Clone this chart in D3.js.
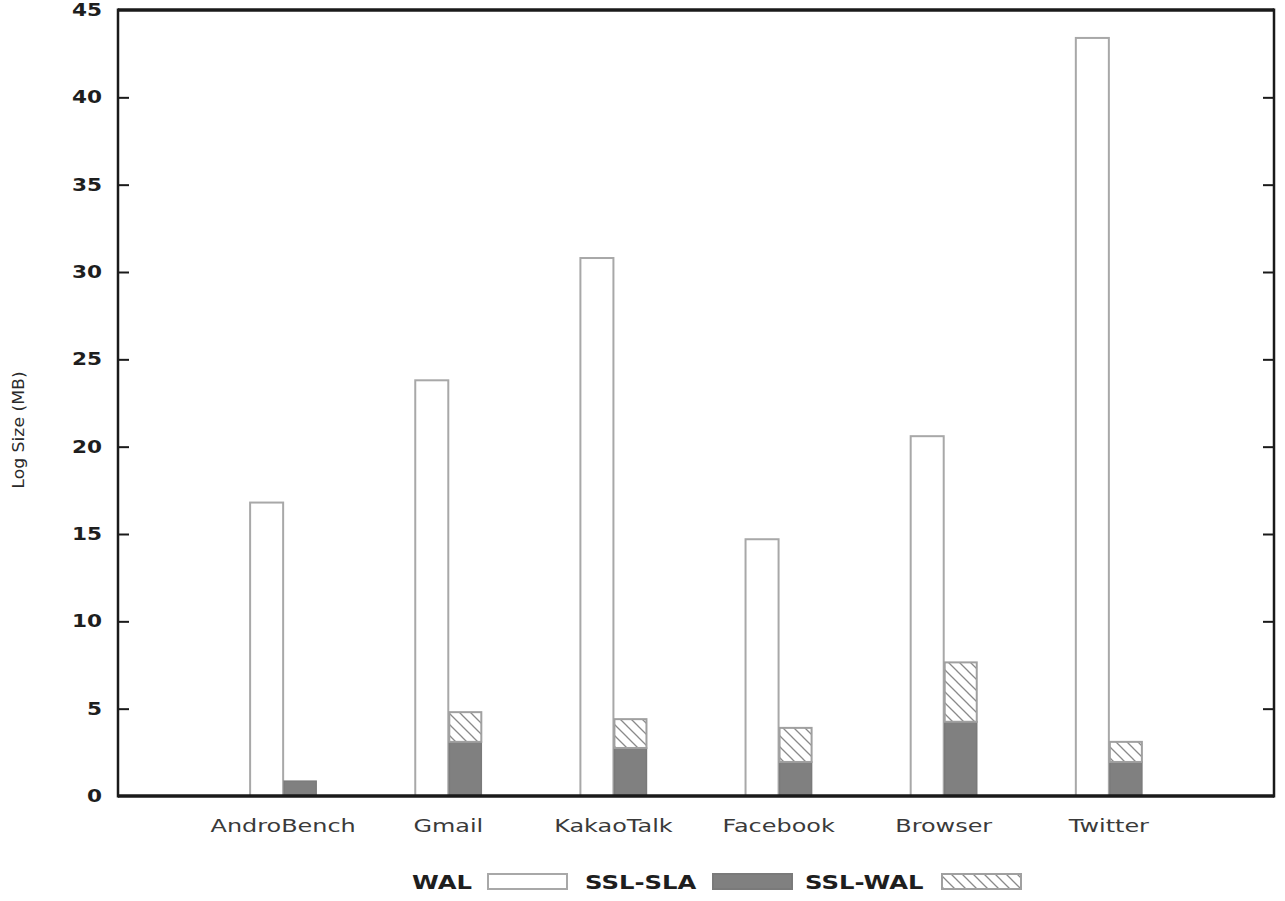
<!DOCTYPE html>
<html>
<head>
<meta charset="utf-8">
<script src="https://cdn.jsdelivr.net/npm/d3@7"></script>
<style>
  html, body { margin: 0; padding: 0; background: #fff; }
  svg { display: block; }
</style>
</head>
<body>
<svg id="chart" width="1285" height="901"></svg>
<script>
// ---- data ----
const categories = ["AndroBench", "Gmail", "KakaoTalk", "Facebook", "Browser", "Twitter"];
const walValues    = [16.8, 23.8, 30.8, 14.7, 20.6, 43.4];
const sslSlaValues = [0.85, 3.1, 2.75, 1.95, 4.25, 1.95];
const sslWalValues = [0.0, 1.7, 1.65, 1.95, 3.4, 1.15];
const yTicks = [0, 5, 10, 15, 20, 25, 30, 35, 40, 45];
const yLabel = "Log Size (MB)";
const legendLabels = ["WAL", "SSL-SLA", "SSL-WAL"];

(function () {
// ---- layout ----
const svg = d3.select("#chart");
const pLeft = 118, pRight = 1274, pTop = 10, pBottom = 796;
const FONT = "'DejaVu Sans', 'Liberation Sans', sans-serif";

const x = d3.scaleLinear().domain([0, categories.length + 1]).range([pLeft, pRight]);
const y = d3.scaleLinear().domain([0, 45]).range([pBottom, pTop]);
const barW = 0.2; // in x units

// hatch pattern
const defs = svg.append("defs");
const pat = defs.append("pattern")
  .attr("id", "hatch").attr("patternUnits", "userSpaceOnUse")
  .attr("width", 11).attr("height", 11);
pat.append("rect").attr("width", 11).attr("height", 11).attr("fill", "#fff");
pat.append("path").attr("d", "M-1,-1 L12,12 M-12,-1 L1,12 M10,-1 L23,12")
  .attr("stroke", "#8a8a8a").attr("stroke-width", 1.3);

// stretched text helper
function stext(g, str, tx, ty, opts) {
  const o = Object.assign({ size: 18, weight: "normal", fill: "#222", anchor: "start", sx: 1.3, baseline: "auto", rotate: 0 }, opts);
  return g.append("text")
    .attr("transform", `translate(${tx},${ty}) rotate(${o.rotate}) scale(${o.sx},1)`)
    .attr("font-family", FONT).attr("font-size", o.size).attr("font-weight", o.weight)
    .attr("fill", o.fill).attr("text-anchor", o.anchor).attr("dominant-baseline", o.baseline)
    .text(str);
}

const plot = svg.append("g");

// WAL bars
plot.selectAll("rect.wal").data(walValues).enter().append("rect")
  .attr("class", "wal")
  .attr("x", (d, i) => x(i + 1 - barW))
  .attr("width", (d, i) => x(i + 1) - x(i + 1 - barW))
  .attr("y", d => y(d))
  .attr("height", d => y(0) - y(d))
  .attr("fill", "#fff").attr("stroke", "#a8a8a8").attr("stroke-width", 2);

// SSL-SLA bars
plot.selectAll("rect.sla").data(sslSlaValues).enter().append("rect")
  .attr("class", "sla")
  .attr("x", (d, i) => x(i + 1) + 1)
  .attr("width", (d, i) => x(i + 1 + barW) - x(i + 1) - 1)
  .attr("y", d => y(d))
  .attr("height", d => y(0) - y(d))
  .attr("fill", "#808080").attr("stroke", "#7a7a7a").attr("stroke-width", 1.5);

// SSL-WAL stacked hatched
plot.selectAll("rect.swal").data(sslWalValues).enter().append("rect")
  .attr("class", "swal")
  .attr("x", (d, i) => x(i + 1) + 1)
  .attr("width", (d, i) => x(i + 1 + barW) - x(i + 1) - 1)
  .attr("y", (d, i) => y(sslSlaValues[i] + d))
  .attr("height", (d, i) => y(sslSlaValues[i]) - y(sslSlaValues[i] + d))
  .attr("fill", "url(#hatch)").attr("stroke", "#a0a0a0").attr("stroke-width", 2)
  .style("display", d => d > 0 ? null : "none");

// frame
const frame = svg.append("g");
frame.append("line").attr("x1", pLeft).attr("x2", pRight).attr("y1", pTop).attr("y2", pTop)
  .attr("stroke", "#1a1a1a").attr("stroke-width", 3.5);
frame.append("line").attr("x1", pLeft).attr("x2", pRight).attr("y1", pBottom).attr("y2", pBottom)
  .attr("stroke", "#1a1a1a").attr("stroke-width", 3.5);
frame.append("line").attr("x1", pLeft).attr("x2", pLeft).attr("y1", pTop - 1.5).attr("y2", pBottom + 1.5)
  .attr("stroke", "#1a1a1a").attr("stroke-width", 2.5);
frame.append("line").attr("x1", pRight).attr("x2", pRight).attr("y1", pTop - 1.5).attr("y2", pBottom + 1.5)
  .attr("stroke", "#1a1a1a").attr("stroke-width", 2.5);

// y axis ticks (left & right, inward)
const axL = d3.axisLeft(y).tickValues(yTicks).tickSize(-11).tickFormat("");
const gL = svg.append("g").attr("transform", `translate(${pLeft},0)`).call(axL);
gL.select(".domain").remove();
gL.selectAll(".tick line").attr("stroke", "#1a1a1a").attr("stroke-width", 2);
const axR = d3.axisRight(y).tickValues(yTicks).tickSize(-11).tickFormat("");
const gR = svg.append("g").attr("transform", `translate(${pRight},0)`).call(axR);
gR.select(".domain").remove();
gR.selectAll(".tick line").attr("stroke", "#1a1a1a").attr("stroke-width", 2);
gL.selectAll(".tick").filter(d => d === 0 || d === 45).select("line").remove();
gR.selectAll(".tick").filter(d => d === 0 || d === 45).select("line").remove();

// tick labels
const tl = svg.append("g");
yTicks.forEach(t => {
  stext(tl, String(t), 102, y(t) + 1, { size: 18, weight: "bold", anchor: "end", sx: 1.2, baseline: "middle", fill: "#1e1e1e" });
});

// category labels
const cl = svg.append("g");
categories.forEach((c, i) => {
  stext(cl, c, x(i + 1), 832, { size: 18, anchor: "middle", sx: 1.33, fill: "#3a3a3a" });
});

// y label
stext(svg, yLabel, 24, 430, { size: 15, anchor: "middle", sx: 1.15, rotate: -90, fill: "#2a2a2a" });

// legend
const lg = svg.append("g");
const legendTextX = [412, 585, 805];
const legendBoxes = [
  { x: 488, fill: "#fff", stroke: "#a8a8a8" },
  { x: 713, fill: "#808080", stroke: "#7a7a7a" },
  { x: 942, fill: "url(#hatch)", stroke: "#a0a0a0" }
];
legendLabels.forEach((l, i) => {
  stext(lg, l, legendTextX[i], 889, { size: 19, weight: "bold", sx: 1.28, fill: "#1e1e1e" });
  lg.append("rect").attr("x", legendBoxes[i].x).attr("y", 874).attr("width", 79).attr("height", 15)
    .attr("fill", legendBoxes[i].fill).attr("stroke", legendBoxes[i].stroke).attr("stroke-width", 2);
});
})();
</script>
</body>
</html>
